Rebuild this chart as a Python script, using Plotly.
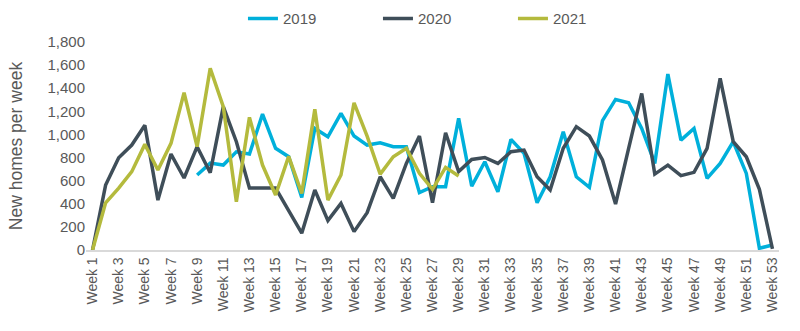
import plotly.graph_objects as go

weeks = [f"Week {i}" for i in range(1, 54)]
tick_labels = [f"Week {i}" for i in range(1, 54, 2)]

# 2019 starts at week 9
y2019 = [None] * 8 + [649, 752, 735, 850, 830, 1176, 880, 807, 455, 1052, 980, 1182, 986, 908,
                      928, 894, 894, 496, 548, 548, 1139, 553, 764, 504, 957, 836, 409, 634, 1023,
                      634, 542, 1119, 1303, 1274, 1052, 749, 1522, 951, 1052, 620, 749, 937, 663,
                      15, 43]
y2020 = [0, 562, 798, 908, 1080, 432, 830, 623, 894, 669, 1240, 937, 536, 536, 536, 340, 145,
         519, 254, 403, 159, 323, 634, 447, 749, 986, 409, 1015, 678, 784, 801, 749, 850, 865,
         634, 519, 880, 1067, 986, 779, 398, 880, 1355, 657, 735, 643, 672, 880, 1485, 937, 807,
         525, 10]
y2021 = [0, 409, 536, 678, 914, 692, 923, 1361, 894, 1572, 1240, 418, 1148, 735, 476, 810, 490,
         1217, 432, 649, 1274, 986, 657, 807, 880, 663, 525, 715, 640]

series = [("2019", y2019, "#00B0DB"), ("2020", y2020, "#3F4E59"), ("2021", y2021, "#B4BA3D")]

idx = list(range(len(weeks)))
fig = go.Figure()
for name, vals, col in series:
    fig.add_trace(go.Scatter(x=idx[:len(vals)], y=vals, name=name, mode="lines",
                             line=dict(color=col, width=3.5), connectgaps=False))

tickvals = [weeks.index(t) for t in tick_labels]

fig.update_layout(
    width=800, height=331,
    margin=dict(l=86, r=21, t=42, b=81, autoexpand=False),
    paper_bgcolor="white", plot_bgcolor="white",
    font=dict(family="Liberation Sans, Arial, sans-serif", color="#595959", size=15),
    showlegend=True,
    legend=dict(orientation="h", x=0.2265, xanchor="left",
                yref="container", y=0.943, yanchor="middle",
                entrywidth=90, entrywidthmode="pixels",
                font=dict(size=15, color="#595959"), bgcolor="rgba(0,0,0,0)"),
    xaxis=dict(range=[-0.5, 52.5], tickmode="array", tickvals=tickvals, ticktext=tick_labels,
               tickangle=-90, tickfont=dict(size=14), showgrid=False, zeroline=False,
               showline=True, linecolor="#D9D9D9", linewidth=1.5, ticks=""),
    yaxis=dict(range=[0, 1800], tickvals=list(range(0, 1801, 200)), tickformat=",",
               tickfont=dict(size=15), showgrid=False, zeroline=False, showline=False,
               ticks="", title=dict(text="New homes per week", font=dict(size=17.5), standoff=20)),
)

fig.write_html("out.html")
